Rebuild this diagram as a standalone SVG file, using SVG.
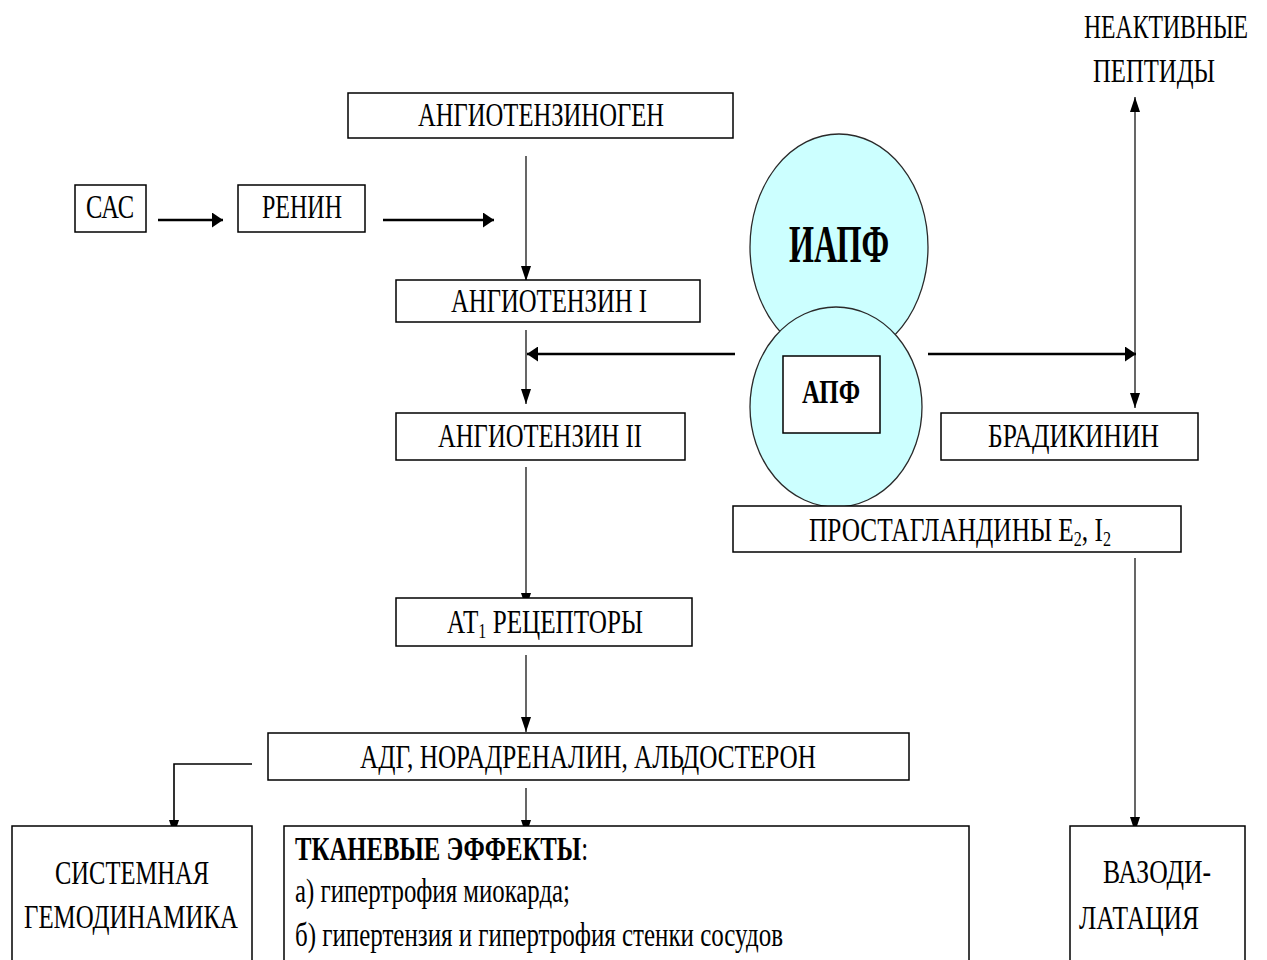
<svg xmlns="http://www.w3.org/2000/svg" width="1267" height="960" viewBox="0 0 1267 960">
  <defs>
    <style>
      .box { fill: #ffffff; stroke: #000000; stroke-width: 1.5; }
      .enz { fill: #ccffff; stroke: #2a2a2a; stroke-width: 1.3; }
      .lbl { font-family: "Liberation Serif", "Times New Roman", serif; font-size: 33px; fill: #000000; }
      .big { font-family: "Liberation Serif", "Times New Roman", serif; font-weight: bold; fill: #000000; }
      .thin { fill: none; stroke: #000000; stroke-width: 1.2; }
      .thick { fill: none; stroke: #000000; stroke-width: 2.6; }
    </style>
    <!-- arrowhead for vertical runs: long and narrow -->
    <marker id="arrV" markerUnits="userSpaceOnUse" markerWidth="15" markerHeight="10" refX="15" refY="5" orient="auto-start-reverse">
      <path d="M0,0 L15,5 L0,10 z" fill="#000000"/>
    </marker>
    <!-- arrowhead for horizontal runs: short and tall -->
    <marker id="arrH" markerUnits="userSpaceOnUse" markerWidth="11" markerHeight="15" refX="11" refY="7.5" orient="auto-start-reverse">
      <path d="M0,0 L11,7.5 L0,15 z" fill="#000000"/>
    </marker>
  </defs>

  <rect width="1267" height="960" fill="#ffffff"/>

  <!-- connectors -->
  <g id="connectors">
    <line class="thick" x1="158" y1="220" x2="223" y2="220" marker-end="url(#arrH)"/>
    <line class="thick" x1="383" y1="220" x2="494" y2="220" marker-end="url(#arrH)"/>
    <line class="thin" x1="526" y1="156" x2="526" y2="281" marker-end="url(#arrV)"/>
    <line class="thin" x1="526" y1="330" x2="526" y2="404" marker-end="url(#arrV)"/>
    <line class="thick" x1="735" y1="354" x2="527" y2="354" marker-end="url(#arrH)"/>
    <line class="thick" x1="928" y1="354" x2="1136" y2="354" marker-end="url(#arrH)"/>
    <line class="thin" x1="1135" y1="97" x2="1135" y2="408" marker-start="url(#arrV)" marker-end="url(#arrV)"/>
    <line class="thin" x1="526" y1="467" x2="526" y2="608" marker-end="url(#arrV)"/>
    <line class="thin" x1="526" y1="655" x2="526" y2="732" marker-end="url(#arrV)"/>
    <polyline class="thin" points="252,764 174,764 174,835" marker-end="url(#arrV)" style="stroke-width:1.6"/>
    <line class="thin" x1="526" y1="788" x2="526" y2="835" marker-end="url(#arrV)"/>
    <line class="thin" x1="1135" y1="558" x2="1135" y2="832" marker-end="url(#arrV)"/>
  </g>

  <!-- free labels -->
  <g id="inactive-peptides">
    <text class="lbl" x="1084" y="38" textLength="164" lengthAdjust="spacingAndGlyphs">НЕАКТИВНЫЕ</text>
    <text class="lbl" x="1093" y="82" textLength="122" lengthAdjust="spacingAndGlyphs">ПЕПТИДЫ</text>
  </g>

  <g id="angiotensinogen">
    <rect class="box" x="348" y="93" width="385" height="45"/>
    <text class="lbl" x="418" y="126" textLength="246" lengthAdjust="spacingAndGlyphs">АНГИОТЕНЗИНОГЕН</text>
  </g>

  <g id="sas">
    <rect class="box" x="75" y="185" width="71" height="47"/>
    <text class="lbl" x="86" y="218" textLength="48" lengthAdjust="spacingAndGlyphs">САС</text>
  </g>

  <g id="renin">
    <rect class="box" x="238" y="185" width="127" height="47"/>
    <text class="lbl" x="262" y="218" textLength="80" lengthAdjust="spacingAndGlyphs">РЕНИН</text>
  </g>

  <g id="angiotensin-1">
    <rect class="box" x="396" y="280" width="304" height="42"/>
    <text class="lbl" x="451" y="312" textLength="196" lengthAdjust="spacingAndGlyphs">АНГИОТЕНЗИН I</text>
  </g>

  <!-- enzyme pair: inhibitor over the converting enzyme -->
  <g id="iapf">
    <ellipse class="enz" cx="839" cy="247" rx="89" ry="113"/>
    <text class="big" x="789" y="262" font-size="52" textLength="100" lengthAdjust="spacingAndGlyphs">ИАПФ</text>
  </g>

  <g id="apf">
    <ellipse class="enz" cx="836" cy="407" rx="86" ry="100"/>
    <rect class="box" x="783" y="356" width="97" height="77"/>
    <text class="big" x="802" y="403" font-size="34" textLength="58" lengthAdjust="spacingAndGlyphs">АПФ</text>
  </g>

  <g id="angiotensin-2">
    <rect class="box" x="396" y="413" width="289" height="47"/>
    <text class="lbl" x="438" y="447" textLength="204" lengthAdjust="spacingAndGlyphs">АНГИОТЕНЗИН II</text>
  </g>

  <g id="bradykinin">
    <rect class="box" x="941" y="413" width="257" height="47"/>
    <text class="lbl" x="988" y="447" textLength="171" lengthAdjust="spacingAndGlyphs">БРАДИКИНИН</text>
  </g>

  <g id="prostaglandins">
    <rect class="box" x="733" y="506" width="448" height="46"/>
    <text class="lbl" x="809" y="541" textLength="302" lengthAdjust="spacingAndGlyphs">ПРОСТАГЛАНДИНЫ E<tspan font-size="21" dy="5">2</tspan><tspan dy="-5">, I</tspan><tspan font-size="21" dy="5">2</tspan></text>
  </g>

  <g id="at1-receptors">
    <rect class="box" x="396" y="598" width="296" height="48"/>
    <text class="lbl" x="447" y="633" textLength="196" lengthAdjust="spacingAndGlyphs">АТ<tspan font-size="21" dy="5">1</tspan><tspan dy="-5"> РЕЦЕПТОРЫ</tspan></text>
  </g>

  <g id="hormones">
    <rect class="box" x="268" y="733" width="641" height="47"/>
    <text class="lbl" x="360" y="768" textLength="456" lengthAdjust="spacingAndGlyphs">АДГ, НОРАДРЕНАЛИН, АЛЬДОСТЕРОН</text>
  </g>

  <g id="systemic-hemodynamics">
    <rect class="box" x="12" y="826" width="240" height="150"/>
    <text class="lbl" x="55" y="884" textLength="154" lengthAdjust="spacingAndGlyphs">СИСТЕМНАЯ</text>
    <text class="lbl" x="24" y="928" textLength="214" lengthAdjust="spacingAndGlyphs">ГЕМОДИНАМИКА</text>
  </g>

  <g id="tissue-effects">
    <rect class="box" x="284" y="826" width="685" height="150"/>
    <text class="lbl" x="295" y="860" textLength="293" lengthAdjust="spacingAndGlyphs"><tspan font-weight="bold">ТКАНЕВЫЕ ЭФФЕКТЫ</tspan>:</text>
    <text class="lbl" x="295" y="902" textLength="275" lengthAdjust="spacingAndGlyphs">а) гипертрофия миокарда;</text>
    <text class="lbl" x="295" y="946" textLength="488" lengthAdjust="spacingAndGlyphs">б) гипертензия и гипертрофия стенки сосудов</text>
  </g>

  <g id="vasodilation">
    <rect class="box" x="1070" y="826" width="175" height="150"/>
    <text class="lbl" x="1103" y="883" textLength="108" lengthAdjust="spacingAndGlyphs">ВАЗОДИ-</text>
    <text class="lbl" x="1079" y="929" textLength="120" lengthAdjust="spacingAndGlyphs">ЛАТАЦИЯ</text>
  </g>
</svg>
